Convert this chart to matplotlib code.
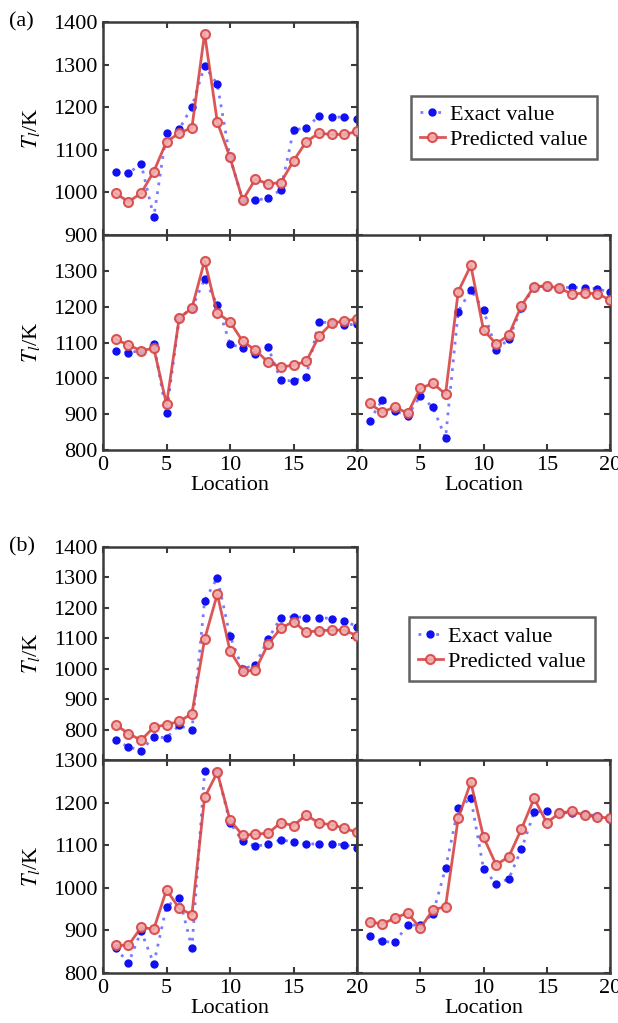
import matplotlib
matplotlib.use("Agg")
import matplotlib.pyplot as plt
import numpy as np

plt.rcParams['font.family'] = ['Liberation Serif', 'DejaVu Serif']
plt.rcParams['mathtext.fontset'] = 'stix'

location = list(range(1, 21))

# ---- (a) ----
a_top_exact = [1049, 1045, 1067, 942, 1140, 1148, 1201, 1297, 1254, 1082,
               982, 982, 986, 1006, 1146, 1152, 1179, 1178, 1176, 1172]
a_top_pred = [998, 978, 998, 1049, 1119, 1139, 1152, 1373, 1165, 1082,
              982, 1031, 1020, 1023, 1074, 1119, 1139, 1136, 1136, 1143]
a_bl_exact = [1077, 1072, 1077, 1096, 902, 1168, 1196, 1277, 1205, 1096,
              1084, 1068, 1087, 994, 993, 1005, 1158, 1154, 1149, 1151]
a_bl_pred = [1109, 1093, 1077, 1084, 928, 1168, 1196, 1328, 1182, 1158,
             1103, 1079, 1045, 1031, 1037, 1047, 1117, 1154, 1160, 1166]
a_br_exact = [882, 940, 910, 895, 951, 919, 834, 1186, 1247, 1191,
              1079, 1110, 1196, 1256, 1256, 1253, 1254, 1253, 1250, 1240]
a_br_pred = [930, 905, 921, 902, 972, 986, 956, 1242, 1315, 1135,
             1096, 1121, 1203, 1256, 1258, 1252, 1235, 1238, 1236, 1219]

# ---- (b) ----
b_top_exact = [765, 743, 731, 776, 773, 814, 797, 1223, 1299, 1108,
               999, 1013, 1097, 1168, 1171, 1168, 1168, 1165, 1158, 1138]
b_top_pred = [816, 787, 765, 808, 816, 827, 852, 1097, 1245, 1059,
              991, 996, 1081, 1133, 1155, 1120, 1125, 1127, 1127, 1108]
b_bl_exact = [859, 823, 898, 822, 956, 977, 859, 1274, 1273, 1153,
              1109, 1098, 1102, 1113, 1107, 1103, 1103, 1103, 1101, 1093]
b_bl_pred = [865, 865, 907, 903, 995, 952, 937, 1212, 1271, 1159,
             1123, 1126, 1128, 1153, 1146, 1171, 1152, 1148, 1140, 1130]
b_br_exact = [886, 874, 872, 913, 912, 939, 1046, 1187, 1210, 1045,
              1009, 1021, 1091, 1177, 1181, 1177, 1175, 1173, 1169, 1161]
b_br_pred = [920, 915, 929, 941, 905, 948, 956, 1163, 1248, 1119,
             1054, 1073, 1138, 1210, 1153, 1175, 1180, 1170, 1167, 1163]

x_ticks = [0, 5, 10, 15, 20]
legend_labels = ['Exact value', 'Predicted value']

W, H = 618, 1023
fig = plt.figure(figsize=(W / 100, H / 100), dpi=100)

FS = 16
SPINE = '#3a3a3a'
BLUE = '#1010f0'
BLUE_LINE = '#7a7aff'
RED = '#d84545'


def px_axes(x0, y0, x1, y1):
    return fig.add_axes([x0 / W, 1 - y1 / H, (x1 - x0) / W, (y1 - y0) / H])


def draw(ax, exact, pred, ylim, yticks, ylabels_shown, xlabels_shown, ylab, xlab):
    ax.plot(location, exact, linestyle=(0, (1, 2.2)), lw=2.0, color=BLUE_LINE,
            marker='o', ms=5, mfc=BLUE, mec=BLUE, label=legend_labels[0], zorder=2)
    ax.plot(location, pred, linestyle='-', lw=2.0, color=RED, alpha=0.9,
            marker='o', ms=6.5, mfc='#f0b0b0', mec=RED, mew=1.5,
            label=legend_labels[1], zorder=3)
    ax.set_xlim(0, 20)
    ax.set_ylim(*ylim)
    ax.set_xticks(x_ticks)
    ax.set_yticks(yticks)
    ax.set_xticklabels([str(t) if t in xlabels_shown else '' for t in x_ticks])
    ax.set_yticklabels([str(t) if t in ylabels_shown else '' for t in yticks])
    ax.tick_params(direction='in', top=True, right=True, length=4, width=1.5,
                   color=SPINE, labelsize=FS, pad=4)
    for s in ax.spines.values():
        s.set_color(SPINE)
        s.set_linewidth(1.8)
    if ylab:
        ax.set_ylabel(r'$T_l$/K', fontsize=FS)
        ax.yaxis.set_label_coords(-0.24, 0.5)
    if xlab:
        ax.set_xlabel('Location', fontsize=FS, labelpad=1)


# (a)
ax1 = px_axes(103, 22, 357, 235)
draw(ax1, a_top_exact, a_top_pred, (900, 1400), list(range(900, 1401, 100)),
     list(range(900, 1401, 100)), [], True, False)
ax2 = px_axes(103, 235, 357, 450)
draw(ax2, a_bl_exact, a_bl_pred, (800, 1400), list(range(800, 1401, 100)),
     list(range(800, 1301, 100)), x_ticks, True, True)
ax3 = px_axes(357, 235, 610, 450)
draw(ax3, a_br_exact, a_br_pred, (800, 1400), list(range(800, 1401, 100)),
     [], [5, 10, 15, 20], False, True)

# (b)
ax4 = px_axes(103, 547, 357, 760)
draw(ax4, b_top_exact, b_top_pred, (700, 1400), list(range(700, 1401, 100)),
     list(range(800, 1401, 100)), [], True, False)
ax5 = px_axes(103, 760, 357, 973)
draw(ax5, b_bl_exact, b_bl_pred, (800, 1300), list(range(800, 1301, 100)),
     list(range(800, 1301, 100)), x_ticks, True, True)
ax6 = px_axes(357, 760, 610, 973)
draw(ax6, b_br_exact, b_br_pred, (800, 1300), list(range(800, 1301, 100)),
     [], [5, 10, 15, 20], False, True)

for ax, (cx, cy) in [(ax1, (504, 127.5)), (ax4, (502, 649))]:
    h, l = ax.get_legend_handles_labels()
    leg = fig.legend(h, l, loc='center', bbox_to_anchor=(cx / W, 1 - cy / H),
                     fontsize=FS, frameon=True, fancybox=False, handlelength=1.1,
                     handletextpad=0.25, labelspacing=0.2, borderpad=0.4,
                     borderaxespad=0)
    leg.get_frame().set_edgecolor(SPINE)
    leg.get_frame().set_linewidth(1.8)

fig.text(9 / W, 1 - 22 / H, '(a)', fontsize=FS, ha='left', va='center')
fig.text(9 / W, 1 - 547 / H, '(b)', fontsize=FS, ha='left', va='center')

fig.savefig('out.png', dpi=100)
